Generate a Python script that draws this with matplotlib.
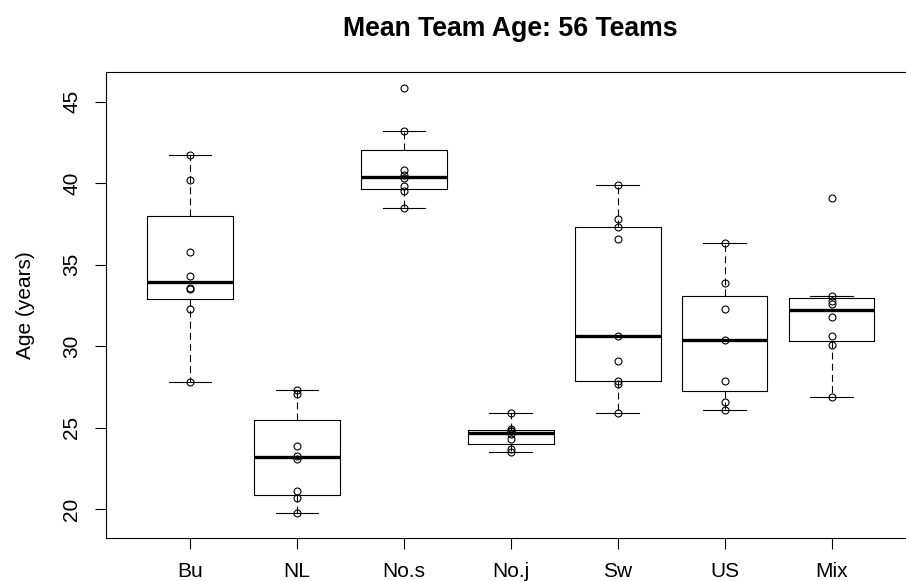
import math
import matplotlib
matplotlib.use("Agg")
import matplotlib.pyplot as plt

plt.rcParams['font.family'] = ['Liberation Sans', 'DejaVu Sans']
plt.rcParams['lines.scale_dashes'] = False

# data (ages per team, grouped by nation)
groups = ["Bu", "NL", "No.s", "No.j", "Sw", "US", "Mix"]
bu = [27.8, 32.3, 33.5, 33.6, 34.3, 35.8, 40.2, 41.7]
nl = [19.8, 20.7, 21.1, 23.1, 23.3, 23.9, 27.1, 27.3]
no_s = [38.5, 39.5, 39.8, 40.3, 40.5, 40.8, 43.2, 45.8]
no_j = [23.5, 23.7, 24.3, 24.6, 24.8, 24.8, 24.9, 25.9]
sw = [25.9, 27.7, 27.9, 29.1, 30.6, 36.6, 37.3, 37.8, 39.9]
us = [26.1, 26.6, 27.9, 30.4, 32.3, 33.9, 36.3]
mix = [26.9, 30.1, 30.6, 31.8, 32.6, 32.8, 33.1, 39.1]
ages = [bu, nl, no_s, no_j, sw, us, mix]


# R style fivenum + whiskers at 1.5 * hinge spread
def fivenum(x):
    x = sorted(x)
    n = len(x)
    n4 = math.floor((n + 3) / 2) / 2
    d = [1, n4, (n + 1) / 2, n + 1 - n4, n]
    return [0.5 * (x[math.floor(v) - 1] + x[math.ceil(v) - 1]) for v in d]


def box_stats(x):
    _, q1, med, q3, _ = fivenum(x)
    iqr = q3 - q1
    inside = [v for v in x if q1 - 1.5 * iqr <= v <= q3 + 1.5 * iqr]
    return {"med": med, "q1": q1, "q3": q3,
            "whislo": min(inside), "whishi": max(inside), "fliers": []}


stats = [box_stats(a) for a in ages]

fig = plt.figure(figsize=(9.06, 5.81), dpi=100)
ax = fig.add_axes([106 / 906, 43 / 581, 809 / 906, 466 / 581])

ax.bxp(stats, positions=range(1, len(groups) + 1), widths=0.8, capwidths=0.4,
       showfliers=False,
       boxprops=dict(color='black', linewidth=0.8),
       medianprops=dict(color='black', linewidth=2.4, solid_capstyle='butt'),
       whiskerprops=dict(color='black', linewidth=0.8, linestyle=(0, (5, 3))),
       capprops=dict(color='black', linewidth=0.8))

for i, a in enumerate(ages):
    ax.plot([i + 1] * len(a), a, 'o', mfc='none', mec='black', ms=5, mew=0.8)

ax.set_xlim(0.214, 7.78)
ax.set_ylim(18.25, 46.81)
ax.set_xticks(range(1, len(groups) + 1))
ax.set_xticklabels(groups)
ax.set_yticks([20, 25, 30, 35, 40, 45])
ax.tick_params(axis='both', direction='out', length=8, width=0.8, labelsize=15)
ax.tick_params(axis='x', pad=9)
ax.tick_params(axis='y', pad=10)
for lab in ax.get_yticklabels():
    lab.set_rotation(90)
    lab.set_va('center')

for sp in ax.spines.values():
    sp.set_linewidth(0.8)

ax.set_ylabel("Age (years)", fontsize=15)
ax.yaxis.set_label_coords(-0.088, 0.5)
ax.set_title("Mean Team Age: 56 Teams", fontsize=19.2, fontweight='bold', pad=26)

fig.savefig("out.png", dpi=100)
